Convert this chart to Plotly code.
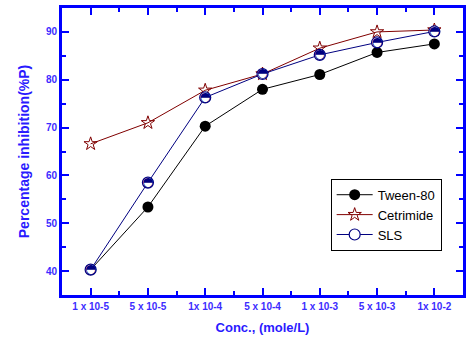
import plotly.graph_objects as go

categories = ["1 x 10-5", "5 x 10-5", "1x 10-4", "5 x 10-4", "1 x 10-3", "5 x 10-3", "1x 10-2"]
tween80 = [40.3, 53.4, 70.3, 78.0, 81.1, 85.7, 87.5]
cetrimide = [66.6, 71.0, 77.8, 81.2, 86.6, 90.0, 90.4]
sls = [40.3, 58.5, 76.3, 81.2, 85.2, 87.8, 90.1]
yticks = [40, 50, 60, 70, 80, 90]

x = list(range(len(categories)))
BLUE = "#0000ff"
TICKC = "#3c2cff"

fig = go.Figure()
fig.add_trace(go.Scatter(x=x, y=tween80, name="Tween-80", mode="lines+markers",
                         line=dict(color="black", width=1),
                         marker=dict(symbol="circle", size=11, color="black")))
fig.add_trace(go.Scatter(x=x, y=cetrimide, name="Cetrimide", mode="lines+markers",
                         line=dict(color="#800000", width=1),
                         marker=dict(symbol="star-open", size=10, color="#800000", line=dict(width=1))))
fig.add_trace(go.Scatter(x=x, y=sls, name="SLS", mode="lines+markers",
                         line=dict(color="#000080", width=1),
                         marker=dict(symbol="circle", size=11, color="white",
                                     line=dict(color="#000080", width=1.2))))
fig.add_trace(go.Scatter(x=x, y=sls, mode="text", text=["\u25D3"] * len(sls),
                         textposition="middle center", showlegend=False, hoverinfo="skip",
                         textfont=dict(family="DejaVu Sans", size=13, color="#000080")))

axis_common = dict(showgrid=False, zeroline=False, showline=True, linecolor=BLUE, linewidth=3,
                   mirror="allticks", ticks="inside", tickcolor=BLUE, tickwidth=2, ticklen=7,
                   automargin=False)

fig.update_layout(
    width=474, height=346,
    paper_bgcolor="white", plot_bgcolor="white",
    margin=dict(l=62, r=11, t=8, b=51),
    font=dict(family="Liberation Sans, Arial", color=TICKC),
    showlegend=True,
    legend=dict(x=0.67, y=0.405, xanchor="left", yanchor="top",
                bordercolor="black", borderwidth=1, bgcolor="white",
                font=dict(family="Liberation Sans, Arial", size=13, color="black"),
                tracegroupgap=0, itemwidth=36),
    xaxis=dict(**axis_common, range=[-0.5, 6.5], tickmode="array", tickvals=x,
               ticktext=["<b>" + c + "</b>" for c in categories], tickfont=dict(size=10, color=TICKC),
               minor=dict(tickvals=[i + 0.5 for i in range(-1, 7)], ticks="inside",
                          ticklen=4, tickcolor=BLUE, tickwidth=2),
               title=dict(text="<b>Conc., (mole/L)</b>", font=dict(size=13, color="#2a1aff"), standoff=12)),
    yaxis=dict(**axis_common, range=[35, 95], tickmode="array", tickvals=yticks,
               ticktext=["<b>" + str(v) + "</b>" for v in yticks],
               tickfont=dict(size=10, color=TICKC),
               minor=dict(tickvals=[45, 55, 65, 75, 85, 95, 35], ticks="inside",
                          ticklen=4, tickcolor=BLUE, tickwidth=2),
               title=dict(text="<b>Percentage inhibition(%P)</b>", font=dict(size=14, color="#2a1aff"), standoff=13)),
)

fig.write_html("out.html", config={"displayModeBar": False},
               post_script="document.body.style.margin='0';document.body.style.overflow='hidden';")
